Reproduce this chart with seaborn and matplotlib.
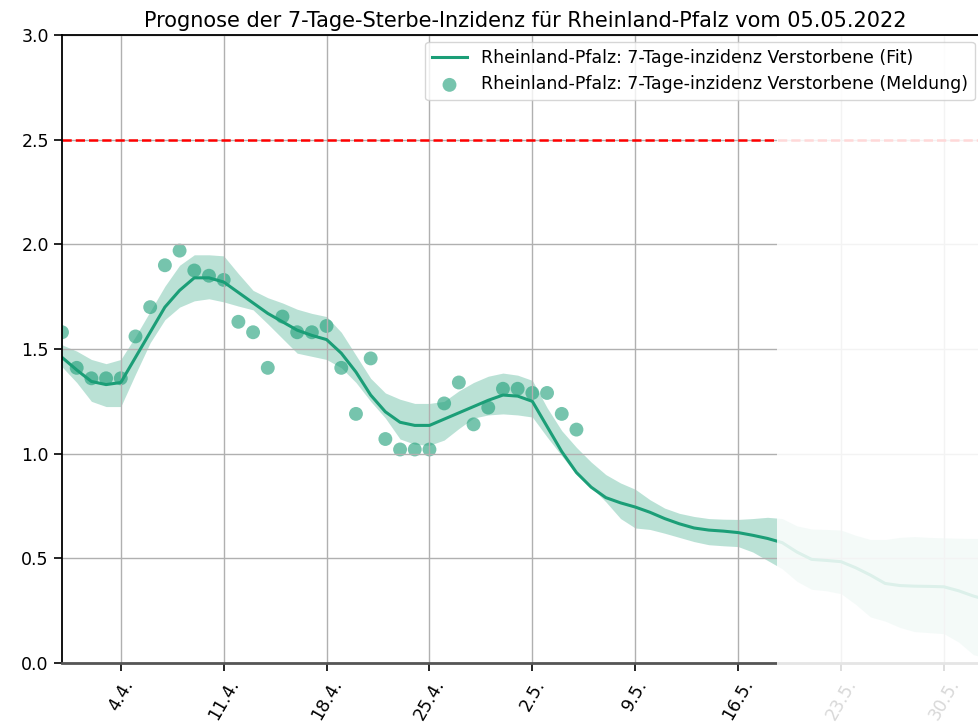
import numpy as np
import pandas as pd
import matplotlib
matplotlib.use("Agg")
import matplotlib.pyplot as plt
import matplotlib.dates as mdates
from matplotlib.patches import Rectangle
import seaborn as sns

# reported values (Meldung), daily from 31.03.2022
meldung_start = "2022-03-31"
meldung = [1.58, 1.41, 1.36, 1.36, 1.36, 1.56, 1.70, 1.90, 1.97, 1.875,
           1.85, 1.83, 1.63, 1.58, 1.41, 1.655, 1.58, 1.58, 1.61, 1.41,
           1.19, 1.455, 1.07, 1.02, 1.02, 1.02, 1.24, 1.34, 1.14, 1.22,
           1.31, 1.31, 1.29, 1.29, 1.19, 1.115]

# fit and band, daily from 31.03.2022 to 02.06.2022
fit = [1.46, 1.40, 1.345, 1.33, 1.34, 1.46, 1.58, 1.70, 1.78, 1.84,
       1.84, 1.82, 1.77, 1.72, 1.67, 1.63, 1.59, 1.565, 1.545, 1.48,
       1.39, 1.28, 1.20, 1.15, 1.135, 1.135, 1.165, 1.195, 1.225, 1.255,
       1.28, 1.275, 1.25, 1.13, 1.01, 0.91, 0.84, 0.79, 0.765, 0.745,
       0.72, 0.69, 0.665, 0.645, 0.635, 0.63, 0.623, 0.61, 0.595, 0.575,
       0.53, 0.495, 0.49, 0.484, 0.455, 0.42, 0.38, 0.37, 0.367, 0.366,
       0.364, 0.345, 0.32, 0.30]
upper = [1.52, 1.49, 1.45, 1.43, 1.45, 1.56, 1.68, 1.80, 1.90, 1.95,
         1.95, 1.945, 1.86, 1.78, 1.745, 1.72, 1.69, 1.67, 1.655, 1.58,
         1.47, 1.36, 1.29, 1.26, 1.24, 1.24, 1.25, 1.30, 1.34, 1.37,
         1.385, 1.375, 1.35, 1.22, 1.11, 1.03, 0.96, 0.90, 0.86, 0.83,
         0.78, 0.74, 0.715, 0.70, 0.69, 0.687, 0.686, 0.69, 0.696, 0.69,
         0.655, 0.64, 0.638, 0.635, 0.61, 0.59, 0.59, 0.60, 0.604, 0.60,
         0.598, 0.596, 0.595, 0.595]
lower = [1.415, 1.34, 1.25, 1.225, 1.225, 1.38, 1.53, 1.64, 1.70, 1.73,
         1.74, 1.725, 1.705, 1.687, 1.62, 1.55, 1.48, 1.465, 1.45, 1.41,
         1.34, 1.25, 1.17, 1.07, 1.045, 1.04, 1.065, 1.12, 1.17, 1.185,
         1.19, 1.185, 1.175, 1.08, 0.99, 0.90, 0.84, 0.77, 0.69, 0.645,
         0.638, 0.62, 0.60, 0.58, 0.565, 0.56, 0.556, 0.53, 0.49, 0.45,
         0.39, 0.352, 0.345, 0.331, 0.28, 0.22, 0.20, 0.17, 0.15, 0.145,
         0.14, 0.10, 0.04, 0.02]

threshold = 2.5
region = "Rheinland-Pfalz"
title = "Prognose der 7-Tage-Sterbe-Inzidenz für Rheinland-Pfalz vom 05.05.2022"

fit_df = pd.DataFrame({
    "datum": pd.date_range("2022-03-31", periods=len(fit), freq="D"),
    "fit": fit, "lower": lower, "upper": upper,
})
mel_df = pd.DataFrame({
    "datum": pd.date_range(meldung_start, periods=len(meldung), freq="D"),
    "wert": meldung,
})

color = sns.color_palette("Dark2")[0]

fig = plt.figure(figsize=(9.79, 7.23), dpi=100)
ax = fig.add_axes([62 / 979, 60 / 723, 926 / 979, 628 / 723])

ax.fill_between(fit_df["datum"], fit_df["lower"], fit_df["upper"],
                color=color, alpha=0.3, linewidth=0)
sns.lineplot(data=fit_df, x="datum", y="fit", color=color, lw=2.2, ax=ax,
             label=f"{region}: 7-Tage-inzidenz Verstorbene (Fit)")
sns.scatterplot(data=mel_df, x="datum", y="wert", color=color, alpha=0.6,
                s=100, edgecolor="none", ax=ax,
                label=f"{region}: 7-Tage-inzidenz Verstorbene (Meldung)")
ax.axhline(threshold, color="red", ls="--", lw=1.8)

ax.set_xlim(pd.Timestamp("2022-03-31"), pd.Timestamp("2022-06-02"))
ax.set_ylim(0, 3)
ax.set_yticks(np.arange(0, 3.01, 0.5))
ax.xaxis.set_major_locator(mdates.WeekdayLocator(byweekday=mdates.MO))
ax.xaxis.set_major_formatter(plt.FuncFormatter(
    lambda v, p: f"{mdates.num2date(v).day}.{mdates.num2date(v).month}."))
ax.tick_params(labelsize=12.5, length=6, width=1.2)
plt.setp(ax.get_xticklabels(), rotation=60)
ax.grid(True, lw=1.0)
ax.set_xlabel("")
ax.set_ylabel("")
ax.set_title(title, fontsize=15)
ax.spines["right"].set_visible(False)
ax.spines["left"].set_linewidth(1.3)
ax.spines["top"].set_linewidth(1.3)
ax.spines["bottom"].set_color("#555555")
ax.spines["bottom"].set_linewidth(2)
ax.spines["top"].set_zorder(6)

# fade out the part after the forecast date
x0 = mdates.date2num(pd.Timestamp("2022-05-18 15:00"))
fade = Rectangle((x0, -0.2), 100, 1.198, transform=ax.get_xaxis_transform(),
                 facecolor="white", alpha=0.85, edgecolor="none",
                 zorder=4, clip_on=False)
ax.add_patch(fade)

leg = ax.legend(loc="upper right", fontsize=12.5, bbox_to_anchor=(0.995, 1.003))
leg.set_zorder(7)

fig.savefig("out.png", dpi=100)
